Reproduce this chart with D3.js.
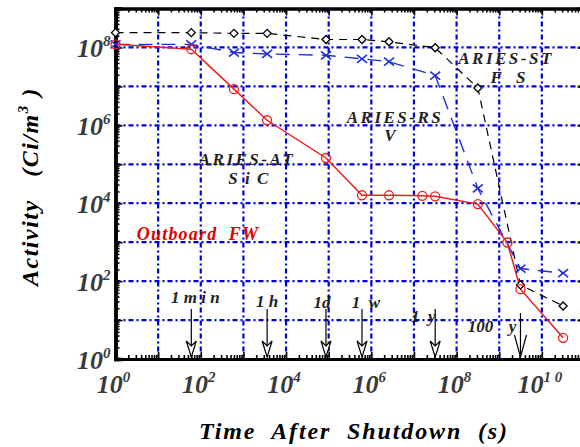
<!DOCTYPE html>
<html>
<head>
<meta charset="utf-8">
<script src="https://cdn.jsdelivr.net/npm/d3@7"></script>
<style>
  body { margin: 0; background: #fff; }
  svg { display: block; }
  .serif { font-family: "Liberation Serif", "Times New Roman", serif; font-weight: bold; font-style: italic; white-space: pre; }
</style>
</head>
<body>
<svg id="chart" width="580" height="447"></svg>
<script>
// Temps après l'arrêt (s) : 1 s, 1 min, 10 min, 1 h, 1 j, 1 sem, 1 mois, 1 an, 10 ans, 100 ans, 1000 ans
const timeSec = [1, 60, 600, 3600, 86400, 604800, 2.6e6, 3.15e7, 3.15e8, 3.15e9, 3.15e10];
// ARIES-AT SiC a deux points de plus (6 mois, 50 ans)
const timeSecAT = [1, 60, 600, 3600, 86400, 604800, 2.6e6, 1.57e7, 3.15e7, 3.15e8, 1.55e9, 3.15e9, 3.15e10];

// Activité (Ci/m3)
const ariesST_FS = [2.4e8, 2.4e8, 2.3e8, 2.3e8, 1.6e8, 1.6e8, 1.4e8, 9.8e7, 9.1e6, 80, 23];
const ariesRS_V = [1.2e8, 1.2e8, 7.4e7, 6.8e7, 6.3e7, 5.1e7, 4.3e7, 1.9e7, 2.4e4, 210, 160];
const ariesAT_SiC = [1.2e8, 9e7, 8.5e6, 1.35e6, 1.45e5, 1.6e4, 1.6e4, 1.55e4, 1.5e4, 9.5e3, 980, 62, 3.5];

// Repères de temps (flèches)
const markLabels = ['1 min', '1 h', '1 d', '1 w', '1 y', '100 y'];
const markTimes = [60, 3600, 86400, 604800, 3.15e7, 3.15e9];

// Étiquettes des axes
const xLabelExp = [0, 2, 4, 6, 8, 10];
const yLabelExp = [0, 2, 4, 6, 8];

const svg = d3.select('#chart');
svg.append('rect').attr('width', 580).attr('height', 447).attr('fill', '#fff');

const xScale = d3.scaleLog().domain([1, 1e11]).range([115.5, 584.5]);
const yScale = d3.scaleLog().domain([1, 1e9]).range([359, 8.5]);
const [x0, x1] = xScale.range();
const [y0, y1] = yScale.range();

// graduations majeures / mineures
function decades(a, b) { return d3.range(a, b + 1).map(e => Math.pow(10, e)); }
function minors(a, b) {
    const out = [];
    for (let e = a; e < b; e++) for (let k = 2; k <= 9; k++) out.push(k * Math.pow(10, e));
    return out;
}
const xMajor = decades(0, 11), xMinor = minors(0, 11);
const yMajor = decades(0, 9), yMinor = minors(0, 9);

// grille
const grid = svg.append('g')
    .attr('stroke', '#0000d8').attr('stroke-width', 2.2).attr('stroke-dasharray', '5,3,2,3');
grid.selectAll('.vg').data(decades(1, 10)).enter().append('line')
    .attr('x1', d => xScale(d)).attr('x2', d => xScale(d))
    .attr('y1', y1).attr('y2', y0);
grid.selectAll('.hg').data(decades(1, 8)).enter().append('line')
    .attr('x1', x0).attr('x2', x1)
    .attr('y1', d => yScale(d)).attr('y2', d => yScale(d));

// axes
function styleAxis(g, w) {
    g.select('.domain').attr('stroke', '#000').attr('stroke-width', w);
    g.selectAll('.tick line').attr('stroke', '#000').attr('stroke-width', 1.6);
}
function addAxis(axisFn, scale, transform, major, minor, big, small, w) {
    svg.append('g').attr('transform', transform)
        .call(axisFn(scale).tickValues(minor).tickSize(-small).tickFormat(''))
        .call(g => styleAxis(g, w));
    return svg.append('g').attr('transform', transform)
        .call(axisFn(scale).tickValues(major).tickSize(-big).tickFormat(''))
        .call(g => styleAxis(g, w));
}
addAxis(d3.axisTop, xScale, `translate(0,${y1})`, xMajor, xMinor, 7, 4, 3);
addAxis(d3.axisBottom, xScale, `translate(0,${y0})`, xMajor, xMinor, 7, 4, 3);
addAxis(d3.axisLeft, yScale, `translate(${x0},0)`, yMajor, yMinor, 7, 4, 3.5);
addAxis(d3.axisRight, yScale, `translate(${x1},0)`, yMajor, yMinor, 7, 4, 3);

// étiquettes 10^n
function powLabel(sel, e) {
    sel.append('tspan').text('10');
    sel.append('tspan').attr('dy', -11).attr('font-size', 15)
        .text(e === 10 ? '1 0' : String(e));
}
svg.append('g').selectAll('text').data(xLabelExp).enter().append('text')
    .attr('class', 'serif').attr('font-size', 26).attr('fill', '#3a3a3a')
    .attr('text-anchor', 'middle')
    .attr('x', d => xScale(Math.pow(10, d)) - 2).attr('y', y0 + 34)
    .each(function (d) { powLabel(d3.select(this), d); });
svg.append('g').selectAll('text').data(yLabelExp).enter().append('text')
    .attr('class', 'serif').attr('font-size', 26).attr('fill', '#3a3a3a')
    .attr('text-anchor', 'end')
    .attr('x', x0 - 5).attr('y', d => yScale(Math.pow(10, d)) + 10)
    .each(function (d) { powLabel(d3.select(this), d); });

// titres des axes
svg.append('text').attr('class', 'serif').attr('font-size', 24).attr('fill', '#000')
    .attr('x', 199).attr('y', 439).attr('textLength', 308).attr('lengthAdjust', 'spacing')
    .text('Time  After  Shutdown  (s)');
const yt = svg.append('text').attr('class', 'serif').attr('font-size', 24).attr('fill', '#000')
    .attr('transform', 'translate(38,286) rotate(-90)').attr('letter-spacing', 1.5);
yt.append('tspan').text('Activity   (Ci/m');
yt.append('tspan').attr('dy', -10).attr('font-size', 15).text('3');
yt.append('tspan').attr('dy', 10).text(' )');

// courbes
const line = d3.line().x(d => xScale(d[0])).y(d => yScale(d[1]));
const stData = timeSec.map((t, i) => [t, ariesST_FS[i]]);
const rsData = timeSec.map((t, i) => [t, ariesRS_V[i]]);
const atData = timeSecAT.map((t, i) => [t, ariesAT_SiC[i]]);

svg.append('path').datum(stData).attr('d', line)
    .attr('fill', 'none').attr('stroke', '#000').attr('stroke-width', 1.2).attr('stroke-dasharray', '8,6');
svg.append('path').datum(rsData).attr('d', line)
    .attr('fill', 'none').attr('stroke', '#1f2fd8').attr('stroke-width', 1.4).attr('stroke-dasharray', '14,9');
svg.append('path').datum(atData).attr('d', line)
    .attr('fill', 'none').attr('stroke', '#ee1c1c').attr('stroke-width', 1.5);

// marqueurs
svg.append('g').selectAll('path').data(stData).enter().append('path')
    .attr('transform', d => `translate(${xScale(d[0])},${yScale(d[1])})`)
    .attr('d', 'M-4,0L0,-4L4,0L0,4Z')
    .attr('fill', '#fff').attr('stroke', '#000').attr('stroke-width', 1.3);
svg.append('g').selectAll('path').data(rsData).enter().append('path')
    .attr('transform', d => `translate(${xScale(d[0])},${yScale(d[1])})`)
    .attr('d', 'M-5,-4L5,4M-5,4L5,-4')
    .attr('fill', 'none').attr('stroke', '#1f2fd8').attr('stroke-width', 1.6);
svg.append('g').selectAll('circle').data(atData).enter().append('circle')
    .attr('cx', d => xScale(d[0])).attr('cy', d => yScale(d[1])).attr('r', 4.5)
    .attr('fill', 'none').attr('stroke', '#ee1c1c').attr('stroke-width', 1.3);

// noms des séries
function note(x, y, txt, size, color, ls) {
    svg.append('text').attr('class', 'serif').attr('font-size', size).attr('fill', color)
        .attr('letter-spacing', ls).attr('text-anchor', 'middle')
        .attr('x', x).attr('y', y).text(txt);
}
note(247, 165, 'ARIES-AT', 17, '#222', 2.5);
note(249, 184, 'S i C', 17, '#222', 1.5);
note(395, 123, 'ARIES-RS', 17, '#222', 2.5);
note(391, 141, 'V', 17, '#222', 2);
note(506, 64, 'ARIES-ST', 17, '#222', 2.5);
note(509, 83, 'F  S', 17, '#222', 2);
note(198, 240, 'Outboard  FW', 18, '#e00000', 1.2);

// flèches des repères de temps
const labelText = ['1 m i n', '1 h', '1d', '1  w', '1  y', 'y'];
const labelDx = [4, 0, -4, 4, -12, -8];
const labelDy = [303, 307, 308, 308, 322, 332];
const arrows = svg.append('g');
markTimes.forEach(function (t, i) {
    const x = xScale(t);
    const g = arrows.append('g');
    g.append('line').attr('x1', x).attr('x2', x).attr('y1', i === 5 ? 313 : 309).attr('y2', y0 - 2)
        .attr('stroke', '#000').attr('stroke-width', 1.2);
    if (i === 5) {
        g.append('path').attr('d', `M${x - 6},${y0 - 24}L${x},${y0 - 2}L${x + 6},${y0 - 24}`)
            .attr('fill', 'none').attr('stroke', '#000').attr('stroke-width', 1.2);
    } else {
        g.append('path').attr('d', `M${x - 5},${y0 - 18}L${x},${y0 - 2}L${x + 5},${y0 - 18}L${x},${y0 - 13}Z`)
            .attr('fill', '#fff').attr('stroke', '#000').attr('stroke-width', 1.2);
    }
    g.append('text').attr('class', 'serif').attr('font-size', 17).attr('fill', '#222')
        .attr('text-anchor', 'middle')
        .attr('x', x + labelDx[i]).attr('y', labelDy[i]).text(labelText[i]);
});
// "100" du repère 100 ans
svg.append('text').attr('class', 'serif').attr('font-size', 17).attr('fill', '#222')
    .attr('text-anchor', 'middle')
    .attr('x', xScale(markTimes[5]) - 40).attr('y', 332).text('100');
</script>
</body>
</html>
